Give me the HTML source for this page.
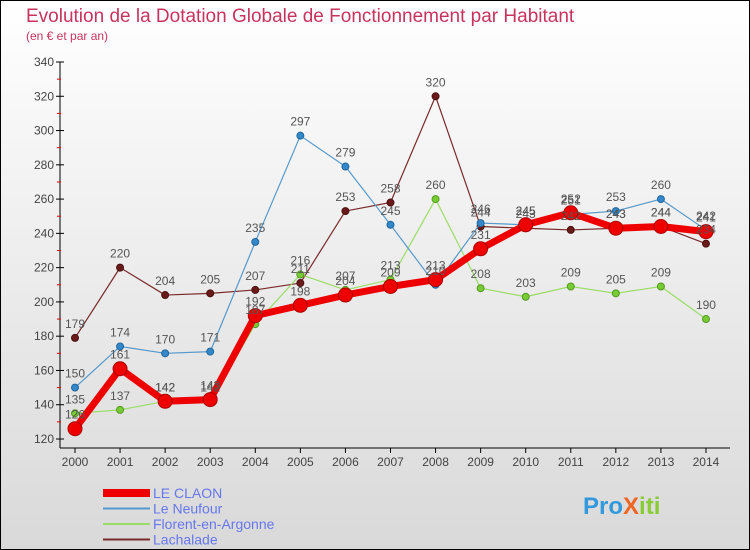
<!DOCTYPE html>
<html><head><meta charset="utf-8"><style>
body{margin:0}
#c{width:750px;height:550px;position:relative;overflow:hidden}
svg text{font-family:"Liberation Sans",sans-serif}
</style></head><body>
<div id="c">
<svg id="s" width="750" height="550" xmlns="http://www.w3.org/2000/svg">
<defs><linearGradient id="bg" x1="0" y1="0" x2="0" y2="1"><stop offset="0" stop-color="#ffffff"/><stop offset="1" stop-color="#d9d9d9"/></linearGradient></defs>
<rect x="0.5" y="0.5" width="749" height="549" fill="url(#bg)" stroke="#000"/>
<text x="26" y="22" font-size="19" fill="#c8335e">Evolution de la Dotation Globale de Fonctionnement par Habitant</text>
<text x="26" y="40" font-size="12" fill="#c8335e">(en € et par an)</text>
<g id="axes"></g><g id="series"></g><g id="labels"></g><g id="legend"></g>
</svg></div>
<script>
const years=[2000,2001,2002,2003,2004,2005,2006,2007,2008,2009,2010,2011,2012,2013,2014];
const yTicks=[120,140,160,180,200,220,240,260,280,300,320,340];
const claon=[126,161,142,143,192,198,204,209,213,231,245,252,243,244,241];
const neufour=[150,174,170,171,235,297,279,245,210,246,245,251,253,260,242];
const florent=[135,137,142,142,187,216,207,213,260,208,203,209,205,209,190];
const lachalade=[179,220,204,205,207,211,253,258,320,244,243,242,243,244,234];
const seriesNames=["LE CLAON","Le Neufour","Florent-en-Argonne","Lachalade"];
const NS="http://www.w3.org/2000/svg";
function X(i){return 75+i*45.07;}
function Y(v){return 439-(v-120)*(377/220);}
function mk(t,a,p){const e=document.createElementNS(NS,t);for(const k in a)e.setAttribute(k,a[k]);p.appendChild(e);return e;}
const ax=document.getElementById('axes');
let e=mk('line',{x1:60,y1:Y(340),x2:60,y2:448,stroke:'#000','stroke-width':1},ax);

e=mk('line',{x1:60,y1:448,x2:730,y2:448,stroke:'#000','stroke-width':1},ax);

yTicks.forEach(v=>{
 mk('line',{x1:56,y1:Y(v),x2:64,y2:Y(v),stroke:'#000'},ax);
 if(v<340)mk('line',{x1:57,y1:Y(v+10),x2:61,y2:Y(v+10),stroke:'#e00'},ax);
 const t=mk('text',{x:54,y:Y(v)+4,'font-size':12,'text-anchor':'end',fill:'#444'},ax);t.textContent=v;
 
});
years.forEach((yr,i)=>{
 mk('line',{x1:X(i),y1:448,x2:X(i),y2:453,stroke:'#000'},ax);
 const t=mk('text',{x:X(i),y:466,'font-size':12,'text-anchor':'middle',fill:'#444'},ax);t.textContent=yr;
 
});
const sg=document.getElementById('series'),lg=document.getElementById('labels');
function draw(data,color,w,r,dot,stroke,name){
 const g=mk('g',{},sg);
 
 mk('polyline',{points:data.map((v,i)=>X(i)+','+Y(v)).join(' '),fill:'none',stroke:color,'stroke-width':w,'stroke-linejoin':'round'},g);
 data.forEach((v,i)=>{
  const c=mk('circle',{cx:X(i),cy:Y(v),r:r,fill:dot,stroke:stroke,'stroke-width':1},g);
  
  const t=mk('text',{x:X(i),y:Y(v)-10,'font-size':12,'text-anchor':'middle',fill:'#555'},lg);t.textContent=v;
  
 });
}
draw(lachalade,'#7a2a2a',1.2,3.5,'#6b1a1a','#4a1010','lachalade');
draw(florent,'#99dd66',1.2,3.5,'#77cc33','#559922','florent');
draw(neufour,'#5599cc',1.2,3.5,'#3388cc','#226699','neufour');
draw(claon,'#ee0000',7,7,'#ee0000','#aa0000','le-claon');
const L=document.getElementById('legend');
const lc=[['#ee0000',8],['#5599cc',2],['#99dd66',2],['#7a2a2a',2]];
seriesNames.forEach((n,i)=>{
 const y=493+i*15.5;
 const g=mk('g',{},L);
 
 mk('line',{x1:103,y1:y,x2:150,y2:y,stroke:lc[i][0],'stroke-width':lc[i][1]},g);
 const t=mk('text',{x:153,y:y+5,'font-size':14,fill:'#6677ee'},g);t.textContent=n;
});
const pg=mk('g',{},L);
const pt=mk('text',{x:583,y:514,'font-size':24,'font-weight':'bold',fill:'#3399dd'},pg);
const parts=[['Pro','#3399dd'],['X','#ee6622'],['iti','#88cc33']];
parts.forEach(p=>{const s=mk('tspan',{fill:p[1]},pt);s.textContent=p[0];});
</script>
</body></html>
